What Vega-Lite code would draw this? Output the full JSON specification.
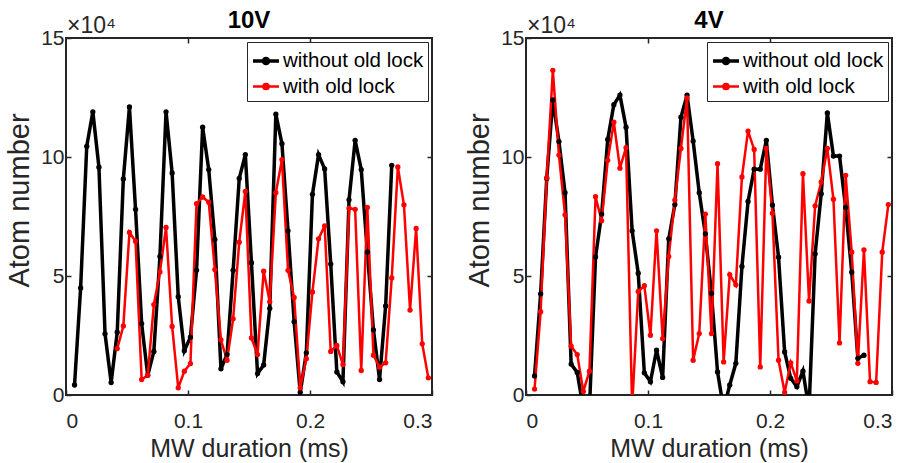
{
  "$schema": "https://vega.github.io/schema/vega-lite/v6.json",
  "background": "white",
  "padding": {"left": 4, "top": 8, "right": 5, "bottom": 2},
  "autosize": {"type": "pad"},
  "config": {
    "font": "Liberation Sans",
    "view": {"stroke": "#262626", "strokeWidth": 2},
    "axis": {"grid": false, "domain": false, "tickColor": "#262626", "tickWidth": 1.5, "tickSize": -5, "labelColor": "#262626", "titleColor": "#262626", "labelFontSize": 21, "titleFontSize": 25, "titleFontWeight": "normal"},
    "title": {"fontSize": 24, "fontWeight": "bold", "color": "#000000", "frame": "group"}
  },
  "datasets": {
    "annot": [{"label": "×10⁴"}],
    "points": [
      {"panel":"10V","series":"without old lock","t":0.007,"atoms":4200},
      {"panel":"10V","series":"without old lock","t":0.012,"atoms":45000},
      {"panel":"10V","series":"without old lock","t":0.017,"atoms":104500},
      {"panel":"10V","series":"without old lock","t":0.022,"atoms":119000},
      {"panel":"10V","series":"without old lock","t":0.027,"atoms":95700},
      {"panel":"10V","series":"without old lock","t":0.032,"atoms":25700},
      {"panel":"10V","series":"without old lock","t":0.037,"atoms":5200},
      {"panel":"10V","series":"without old lock","t":0.042,"atoms":26400},
      {"panel":"10V","series":"without old lock","t":0.047,"atoms":90800},
      {"panel":"10V","series":"without old lock","t":0.052,"atoms":121000},
      {"panel":"10V","series":"without old lock","t":0.057,"atoms":78000},
      {"panel":"10V","series":"without old lock","t":0.062,"atoms":30000},
      {"panel":"10V","series":"without old lock","t":0.067,"atoms":8300},
      {"panel":"10V","series":"without old lock","t":0.072,"atoms":18300},
      {"panel":"10V","series":"without old lock","t":0.077,"atoms":58200},
      {"panel":"10V","series":"without old lock","t":0.082,"atoms":119000},
      {"panel":"10V","series":"without old lock","t":0.087,"atoms":93300},
      {"panel":"10V","series":"without old lock","t":0.092,"atoms":41300},
      {"panel":"10V","series":"without old lock","t":0.097,"atoms":18600},
      {"panel":"10V","series":"without old lock","t":0.102,"atoms":24300},
      {"panel":"10V","series":"without old lock","t":0.107,"atoms":52400},
      {"panel":"10V","series":"without old lock","t":0.112,"atoms":112500},
      {"panel":"10V","series":"without old lock","t":0.117,"atoms":94700},
      {"panel":"10V","series":"without old lock","t":0.122,"atoms":65300},
      {"panel":"10V","series":"without old lock","t":0.127,"atoms":11000},
      {"panel":"10V","series":"without old lock","t":0.132,"atoms":17000},
      {"panel":"10V","series":"without old lock","t":0.137,"atoms":52400},
      {"panel":"10V","series":"without old lock","t":0.142,"atoms":91000},
      {"panel":"10V","series":"without old lock","t":0.147,"atoms":101000},
      {"panel":"10V","series":"without old lock","t":0.152,"atoms":55600},
      {"panel":"10V","series":"without old lock","t":0.157,"atoms":9000},
      {"panel":"10V","series":"without old lock","t":0.162,"atoms":12600},
      {"panel":"10V","series":"without old lock","t":0.167,"atoms":36400},
      {"panel":"10V","series":"without old lock","t":0.172,"atoms":118000},
      {"panel":"10V","series":"without old lock","t":0.177,"atoms":105600},
      {"panel":"10V","series":"without old lock","t":0.182,"atoms":69000},
      {"panel":"10V","series":"without old lock","t":0.187,"atoms":30800},
      {"panel":"10V","series":"without old lock","t":0.192,"atoms":1000},
      {"panel":"10V","series":"without old lock","t":0.197,"atoms":17700},
      {"panel":"10V","series":"without old lock","t":0.202,"atoms":84300},
      {"panel":"10V","series":"without old lock","t":0.207,"atoms":101000},
      {"panel":"10V","series":"without old lock","t":0.212,"atoms":95000},
      {"panel":"10V","series":"without old lock","t":0.217,"atoms":55000},
      {"panel":"10V","series":"without old lock","t":0.222,"atoms":9700},
      {"panel":"10V","series":"without old lock","t":0.227,"atoms":5600},
      {"panel":"10V","series":"without old lock","t":0.232,"atoms":82000},
      {"panel":"10V","series":"without old lock","t":0.237,"atoms":107000},
      {"panel":"10V","series":"without old lock","t":0.242,"atoms":94700},
      {"panel":"10V","series":"without old lock","t":0.247,"atoms":60000},
      {"panel":"10V","series":"without old lock","t":0.252,"atoms":27400},
      {"panel":"10V","series":"without old lock","t":0.257,"atoms":6500},
      {"panel":"10V","series":"without old lock","t":0.262,"atoms":37400},
      {"panel":"10V","series":"without old lock","t":0.267,"atoms":96500},
      {"panel":"10V","series":"with old lock","t":0.042,"atoms":19500},
      {"panel":"10V","series":"with old lock","t":0.047,"atoms":29000},
      {"panel":"10V","series":"with old lock","t":0.052,"atoms":68300},
      {"panel":"10V","series":"with old lock","t":0.057,"atoms":64600},
      {"panel":"10V","series":"with old lock","t":0.062,"atoms":6500},
      {"panel":"10V","series":"with old lock","t":0.067,"atoms":8300},
      {"panel":"10V","series":"with old lock","t":0.072,"atoms":38000},
      {"panel":"10V","series":"with old lock","t":0.077,"atoms":51700},
      {"panel":"10V","series":"with old lock","t":0.082,"atoms":70400},
      {"panel":"10V","series":"with old lock","t":0.087,"atoms":28800},
      {"panel":"10V","series":"with old lock","t":0.092,"atoms":3000},
      {"panel":"10V","series":"with old lock","t":0.097,"atoms":10000},
      {"panel":"10V","series":"with old lock","t":0.102,"atoms":13200},
      {"panel":"10V","series":"with old lock","t":0.107,"atoms":80400},
      {"panel":"10V","series":"with old lock","t":0.112,"atoms":83200},
      {"panel":"10V","series":"with old lock","t":0.117,"atoms":81000},
      {"panel":"10V","series":"with old lock","t":0.122,"atoms":52700},
      {"panel":"10V","series":"with old lock","t":0.127,"atoms":23200},
      {"panel":"10V","series":"with old lock","t":0.132,"atoms":14600},
      {"panel":"10V","series":"with old lock","t":0.137,"atoms":32000},
      {"panel":"10V","series":"with old lock","t":0.142,"atoms":64200},
      {"panel":"10V","series":"with old lock","t":0.147,"atoms":85500},
      {"panel":"10V","series":"with old lock","t":0.152,"atoms":24000},
      {"panel":"10V","series":"with old lock","t":0.157,"atoms":17000},
      {"panel":"10V","series":"with old lock","t":0.162,"atoms":52000},
      {"panel":"10V","series":"with old lock","t":0.167,"atoms":39200},
      {"panel":"10V","series":"with old lock","t":0.172,"atoms":85000},
      {"panel":"10V","series":"with old lock","t":0.177,"atoms":98900},
      {"panel":"10V","series":"with old lock","t":0.182,"atoms":52400},
      {"panel":"10V","series":"with old lock","t":0.187,"atoms":41000},
      {"panel":"10V","series":"with old lock","t":0.192,"atoms":3000},
      {"panel":"10V","series":"with old lock","t":0.197,"atoms":15200},
      {"panel":"10V","series":"with old lock","t":0.202,"atoms":43300},
      {"panel":"10V","series":"with old lock","t":0.207,"atoms":65600},
      {"panel":"10V","series":"with old lock","t":0.212,"atoms":71100},
      {"panel":"10V","series":"with old lock","t":0.217,"atoms":18300},
      {"panel":"10V","series":"with old lock","t":0.222,"atoms":20800},
      {"panel":"10V","series":"with old lock","t":0.227,"atoms":12800},
      {"panel":"10V","series":"with old lock","t":0.232,"atoms":78500},
      {"panel":"10V","series":"with old lock","t":0.237,"atoms":78000},
      {"panel":"10V","series":"with old lock","t":0.242,"atoms":10300},
      {"panel":"10V","series":"with old lock","t":0.247,"atoms":78800},
      {"panel":"10V","series":"with old lock","t":0.252,"atoms":16700},
      {"panel":"10V","series":"with old lock","t":0.257,"atoms":11700},
      {"panel":"10V","series":"with old lock","t":0.262,"atoms":13500},
      {"panel":"10V","series":"with old lock","t":0.267,"atoms":49200},
      {"panel":"10V","series":"with old lock","t":0.272,"atoms":95800},
      {"panel":"10V","series":"with old lock","t":0.277,"atoms":79900},
      {"panel":"10V","series":"with old lock","t":0.282,"atoms":35700},
      {"panel":"10V","series":"with old lock","t":0.287,"atoms":70000},
      {"panel":"10V","series":"with old lock","t":0.292,"atoms":21500},
      {"panel":"10V","series":"with old lock","t":0.297,"atoms":7200},
      {"panel":"4V","series":"without old lock","t":0.007,"atoms":8000},
      {"panel":"4V","series":"without old lock","t":0.012,"atoms":42500},
      {"panel":"4V","series":"without old lock","t":0.017,"atoms":91000},
      {"panel":"4V","series":"without old lock","t":0.022,"atoms":124000},
      {"panel":"4V","series":"without old lock","t":0.027,"atoms":106500},
      {"panel":"4V","series":"without old lock","t":0.032,"atoms":85000},
      {"panel":"4V","series":"without old lock","t":0.037,"atoms":13000},
      {"panel":"4V","series":"without old lock","t":0.042,"atoms":9500},
      {"panel":"4V","series":"without old lock","t":0.047,"atoms":-6000},
      {"panel":"4V","series":"without old lock","t":0.052,"atoms":-6000},
      {"panel":"4V","series":"without old lock","t":0.057,"atoms":58000},
      {"panel":"4V","series":"without old lock","t":0.062,"atoms":76000},
      {"panel":"4V","series":"without old lock","t":0.067,"atoms":107400},
      {"panel":"4V","series":"without old lock","t":0.072,"atoms":122000},
      {"panel":"4V","series":"without old lock","t":0.077,"atoms":126000},
      {"panel":"4V","series":"without old lock","t":0.082,"atoms":112500},
      {"panel":"4V","series":"without old lock","t":0.087,"atoms":69000},
      {"panel":"4V","series":"without old lock","t":0.092,"atoms":51200},
      {"panel":"4V","series":"without old lock","t":0.097,"atoms":9300},
      {"panel":"4V","series":"without old lock","t":0.102,"atoms":5600},
      {"panel":"4V","series":"without old lock","t":0.107,"atoms":18800},
      {"panel":"4V","series":"without old lock","t":0.112,"atoms":7400},
      {"panel":"4V","series":"without old lock","t":0.117,"atoms":65600},
      {"panel":"4V","series":"without old lock","t":0.122,"atoms":80000},
      {"panel":"4V","series":"without old lock","t":0.127,"atoms":116700},
      {"panel":"4V","series":"without old lock","t":0.132,"atoms":126000},
      {"panel":"4V","series":"without old lock","t":0.137,"atoms":106700},
      {"panel":"4V","series":"without old lock","t":0.142,"atoms":85000},
      {"panel":"4V","series":"without old lock","t":0.147,"atoms":67700},
      {"panel":"4V","series":"without old lock","t":0.152,"atoms":42700},
      {"panel":"4V","series":"without old lock","t":0.157,"atoms":9700},
      {"panel":"4V","series":"without old lock","t":0.162,"atoms":-6000},
      {"panel":"4V","series":"without old lock","t":0.167,"atoms":4200},
      {"panel":"4V","series":"without old lock","t":0.172,"atoms":13300},
      {"panel":"4V","series":"without old lock","t":0.177,"atoms":54000},
      {"panel":"4V","series":"without old lock","t":0.182,"atoms":81300},
      {"panel":"4V","series":"without old lock","t":0.187,"atoms":94900},
      {"panel":"4V","series":"without old lock","t":0.192,"atoms":94900},
      {"panel":"4V","series":"without old lock","t":0.197,"atoms":107000},
      {"panel":"4V","series":"without old lock","t":0.202,"atoms":79800},
      {"panel":"4V","series":"without old lock","t":0.207,"atoms":57900},
      {"panel":"4V","series":"without old lock","t":0.212,"atoms":18100},
      {"panel":"4V","series":"without old lock","t":0.217,"atoms":7000},
      {"panel":"4V","series":"without old lock","t":0.222,"atoms":3500},
      {"panel":"4V","series":"without old lock","t":0.227,"atoms":10000},
      {"panel":"4V","series":"without old lock","t":0.232,"atoms":-6000},
      {"panel":"4V","series":"without old lock","t":0.237,"atoms":59300},
      {"panel":"4V","series":"without old lock","t":0.242,"atoms":84600},
      {"panel":"4V","series":"without old lock","t":0.247,"atoms":118500},
      {"panel":"4V","series":"without old lock","t":0.252,"atoms":100400},
      {"panel":"4V","series":"without old lock","t":0.257,"atoms":100400},
      {"panel":"4V","series":"without old lock","t":0.262,"atoms":78800},
      {"panel":"4V","series":"without old lock","t":0.267,"atoms":51600},
      {"panel":"4V","series":"without old lock","t":0.272,"atoms":15400},
      {"panel":"4V","series":"without old lock","t":0.277,"atoms":16700},
      {"panel":"4V","series":"with old lock","t":0.007,"atoms":2500},
      {"panel":"4V","series":"with old lock","t":0.012,"atoms":35000},
      {"panel":"4V","series":"with old lock","t":0.017,"atoms":91300},
      {"panel":"4V","series":"with old lock","t":0.022,"atoms":136400},
      {"panel":"4V","series":"with old lock","t":0.027,"atoms":100800},
      {"panel":"4V","series":"with old lock","t":0.032,"atoms":75700},
      {"panel":"4V","series":"with old lock","t":0.037,"atoms":20500},
      {"panel":"4V","series":"with old lock","t":0.042,"atoms":17000},
      {"panel":"4V","series":"with old lock","t":0.047,"atoms":1500},
      {"panel":"4V","series":"with old lock","t":0.052,"atoms":10000},
      {"panel":"4V","series":"with old lock","t":0.057,"atoms":83300},
      {"panel":"4V","series":"with old lock","t":0.062,"atoms":73200},
      {"panel":"4V","series":"with old lock","t":0.067,"atoms":98600},
      {"panel":"4V","series":"with old lock","t":0.072,"atoms":114600},
      {"panel":"4V","series":"with old lock","t":0.077,"atoms":95300},
      {"panel":"4V","series":"with old lock","t":0.082,"atoms":103900},
      {"panel":"4V","series":"with old lock","t":0.087,"atoms":-5000},
      {"panel":"4V","series":"with old lock","t":0.092,"atoms":43500},
      {"panel":"4V","series":"with old lock","t":0.097,"atoms":45900},
      {"panel":"4V","series":"with old lock","t":0.102,"atoms":25100},
      {"panel":"4V","series":"with old lock","t":0.107,"atoms":69000},
      {"panel":"4V","series":"with old lock","t":0.112,"atoms":23700},
      {"panel":"4V","series":"with old lock","t":0.117,"atoms":58200},
      {"panel":"4V","series":"with old lock","t":0.122,"atoms":81900},
      {"panel":"4V","series":"with old lock","t":0.127,"atoms":103600},
      {"panel":"4V","series":"with old lock","t":0.132,"atoms":124800},
      {"panel":"4V","series":"with old lock","t":0.137,"atoms":14600},
      {"panel":"4V","series":"with old lock","t":0.142,"atoms":25800},
      {"panel":"4V","series":"with old lock","t":0.147,"atoms":76000},
      {"panel":"4V","series":"with old lock","t":0.152,"atoms":25800},
      {"panel":"4V","series":"with old lock","t":0.157,"atoms":97200},
      {"panel":"4V","series":"with old lock","t":0.162,"atoms":13900},
      {"panel":"4V","series":"with old lock","t":0.167,"atoms":50600},
      {"panel":"4V","series":"with old lock","t":0.172,"atoms":46300},
      {"panel":"4V","series":"with old lock","t":0.177,"atoms":91600},
      {"panel":"4V","series":"with old lock","t":0.182,"atoms":110900},
      {"panel":"4V","series":"with old lock","t":0.187,"atoms":103200},
      {"panel":"4V","series":"with old lock","t":0.192,"atoms":11800},
      {"panel":"4V","series":"with old lock","t":0.197,"atoms":103600},
      {"panel":"4V","series":"with old lock","t":0.202,"atoms":76400},
      {"panel":"4V","series":"with old lock","t":0.207,"atoms":14600},
      {"panel":"4V","series":"with old lock","t":0.212,"atoms":1100},
      {"panel":"4V","series":"with old lock","t":0.217,"atoms":13500},
      {"panel":"4V","series":"with old lock","t":0.222,"atoms":5900},
      {"panel":"4V","series":"with old lock","t":0.227,"atoms":93000},
      {"panel":"4V","series":"with old lock","t":0.232,"atoms":39500},
      {"panel":"4V","series":"with old lock","t":0.237,"atoms":79500},
      {"panel":"4V","series":"with old lock","t":0.242,"atoms":89500},
      {"panel":"4V","series":"with old lock","t":0.247,"atoms":103600},
      {"panel":"4V","series":"with old lock","t":0.252,"atoms":82300},
      {"panel":"4V","series":"with old lock","t":0.257,"atoms":21900},
      {"panel":"4V","series":"with old lock","t":0.262,"atoms":92300},
      {"panel":"4V","series":"with old lock","t":0.267,"atoms":60000},
      {"panel":"4V","series":"with old lock","t":0.272,"atoms":13300},
      {"panel":"4V","series":"with old lock","t":0.277,"atoms":61000},
      {"panel":"4V","series":"with old lock","t":0.282,"atoms":5600},
      {"panel":"4V","series":"with old lock","t":0.287,"atoms":5300},
      {"panel":"4V","series":"with old lock","t":0.292,"atoms":60000},
      {"panel":"4V","series":"with old lock","t":0.297,"atoms":80000}
    ]
  },
  "spacing": 94,
  "bounds": "flush",
  "resolve": {"scale": {"color": "independent", "strokeWidth": "independent"}},
  "hconcat": [
    {
      "width": 366,
      "height": 357,
      "title": {"text": "10V", "offset": 6, "dy": 24},
      "layer": [
        {
          "data": {"name": "points"},
          "transform": [{"filter": "datum.panel === '10V'"}],
          "mark": {"type": "line", "clip": true, "point": {"filled": true, "size": 28, "clip": true}},
          "encoding": {
            "x": {"field": "t", "type": "quantitative", "scale": {"domain": [0, 0.3], "nice": false}, "axis": {"values": [0, 0.1, 0.2, 0.3], "format": "~g", "title": "MW duration (ms)", "labelPadding": 20, "titlePadding": 5}},
            "y": {"field": "atoms", "type": "quantitative", "scale": {"domain": [0, 150000], "nice": false}, "axis": {"values": [0, 50000, 100000, 150000], "labelExpr": "datum.value / 10000", "title": "Atom number", "titleFontSize": 29, "titleY": 162, "labelPadding": 7, "titlePadding": 6}},
            "color": {"field": "series", "type": "nominal", "scale": {"domain": ["without old lock", "with old lock"], "range": ["#000000", "#ff0000"]},
              "legend": {"title": null, "orient": "top-right", "offset": 4, "padding": 4, "rowPadding": 0, "labelOffset": 2, "labelFontSize": 20.5, "labelColor": "#000000", "symbolType": "M-1,0H1M-0.2,0A0.2,0.2,0,1,0,0.2,0A0.2,0.2,0,1,0,-0.2,0", "symbolSize": 676, "symbolStrokeWidth": 3, "strokeColor": "#262626", "fillColor": "white",
                "encode": {"symbols": {"update": {"fill": {"signal": "datum.value === 'with old lock' ? '#ff0000' : '#000000'"}, "strokeWidth": {"signal": "datum.value === 'with old lock' ? 2.5 : 3.5"}}}}}},
            "strokeWidth": {"field": "series", "type": "nominal", "scale": {"domain": ["without old lock", "with old lock"], "range": [3.5, 2.5]}, "legend": null}
          }
        },
        {
          "data": {"name": "annot"},
          "mark": {"type": "text", "align": "left", "baseline": "alphabetic", "dx": 1, "dy": -5, "fontSize": 23, "color": "#262626"},
          "encoding": {
            "x": {"datum": 0, "type": "quantitative", "axis": {"orient": "top", "values": [0.1, 0.2], "labels": false, "title": null}},
            "y": {"datum": 150000, "type": "quantitative", "axis": {"orient": "right", "values": [50000, 100000], "labels": false, "title": null}},
            "text": {"field": "label"}
          }
        }
      ],
      "resolve": {"axis": {"x": "independent", "y": "independent"}}
    },
    {
      "width": 366,
      "height": 357,
      "title": {"text": "4V", "offset": 6, "dy": 24},
      "layer": [
        {
          "data": {"name": "points"},
          "transform": [{"filter": "datum.panel === '4V'"}],
          "mark": {"type": "line", "clip": true, "point": {"filled": true, "size": 28, "clip": true}},
          "encoding": {
            "x": {"field": "t", "type": "quantitative", "scale": {"domain": [0, 0.3], "nice": false}, "axis": {"values": [0, 0.1, 0.2, 0.3], "format": "~g", "title": "MW duration (ms)", "labelPadding": 20, "titlePadding": 5}},
            "y": {"field": "atoms", "type": "quantitative", "scale": {"domain": [0, 150000], "nice": false}, "axis": {"values": [0, 50000, 100000, 150000], "labelExpr": "datum.value / 10000", "title": "Atom number", "titleFontSize": 29, "titleY": 162, "labelPadding": 7, "titlePadding": 6}},
            "color": {"field": "series", "type": "nominal", "scale": {"domain": ["without old lock", "with old lock"], "range": ["#000000", "#ff0000"]},
              "legend": {"title": null, "orient": "top-right", "offset": 4, "padding": 4, "rowPadding": 0, "labelOffset": 2, "labelFontSize": 20.5, "labelColor": "#000000", "symbolType": "M-1,0H1M-0.2,0A0.2,0.2,0,1,0,0.2,0A0.2,0.2,0,1,0,-0.2,0", "symbolSize": 676, "symbolStrokeWidth": 3, "strokeColor": "#262626", "fillColor": "white",
                "encode": {"symbols": {"update": {"fill": {"signal": "datum.value === 'with old lock' ? '#ff0000' : '#000000'"}, "strokeWidth": {"signal": "datum.value === 'with old lock' ? 2.5 : 3.5"}}}}}},
            "strokeWidth": {"field": "series", "type": "nominal", "scale": {"domain": ["without old lock", "with old lock"], "range": [3.5, 2.5]}, "legend": null}
          }
        },
        {
          "data": {"name": "annot"},
          "mark": {"type": "text", "align": "left", "baseline": "alphabetic", "dx": 1, "dy": -5, "fontSize": 23, "color": "#262626"},
          "encoding": {
            "x": {"datum": 0, "type": "quantitative", "axis": {"orient": "top", "values": [0.1, 0.2], "labels": false, "title": null}},
            "y": {"datum": 150000, "type": "quantitative", "axis": {"orient": "right", "values": [50000, 100000], "labels": false, "title": null}},
            "text": {"field": "label"}
          }
        }
      ],
      "resolve": {"axis": {"x": "independent", "y": "independent"}}
    }
  ]
}
